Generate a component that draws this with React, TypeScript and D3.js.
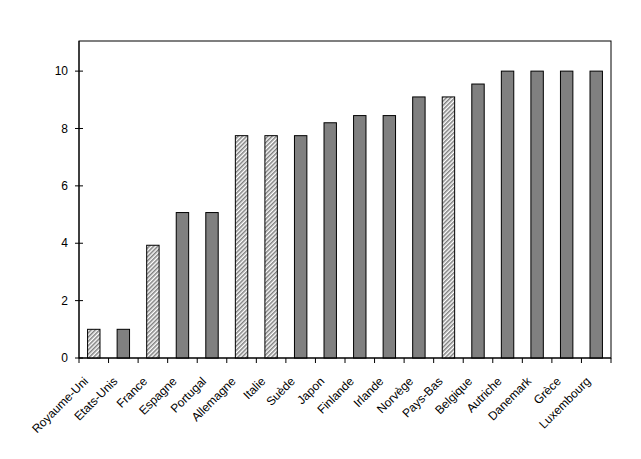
import React from "react";
import * as d3 from "d3";

const categories = ["Royaume-Uni","Etats-Unis","France","Espagne","Portugal","Allemagne","Italie","Suède","Japon","Finlande","Irlande","Norvège","Pays-Bas","Belgique","Autriche","Danemark","Grèce","Luxembourg"];
const values = [1, 1, 3.93, 5.07, 5.07, 7.75, 7.75, 7.75, 8.2, 8.45, 8.45, 9.1, 9.1, 9.55, 10, 10, 10, 10];
const hatched = ["Royaume-Uni","France","Allemagne","Italie","Pays-Bas"];
const yTicks = [0, 2, 4, 6, 8, 10];

export default function App() {
  const W = 641, H = 459;
  const left = 79, right = 611, top = 41, bottom = 358;
  const x = d3.scaleBand<string>().domain(categories).range([left, right]).paddingInner(0.58).paddingOuter(0.29);
  const band = (right - left) / categories.length;
  const y = d3.scaleLinear().domain([0, 11.05]).range([bottom, top]);
  const font = "'Liberation Sans', Arial, sans-serif";
  return (
    <svg width={W} height={H} style={{ position: "absolute", left: 0, top: 0, background: "#fff" }}>
      <defs>
        <pattern id="hatch" width="3" height="3" patternUnits="userSpaceOnUse" patternTransform="rotate(45)">
          <rect width="3" height="3" fill="#fff" />
          <line x1="0.75" y1="0" x2="0.75" y2="3" stroke="#808080" strokeWidth="1.6" />
        </pattern>
      </defs>
      <rect x={left} y={top} width={right - left} height={bottom - top} fill="#fff" stroke="#000" strokeWidth={1} />
      {categories.map((c, i) => (
        <rect key={c} x={x(c)!} y={y(values[i])} width={x.bandwidth()} height={bottom - y(values[i])}
          fill={hatched.includes(c) ? "url(#hatch)" : "#808080"} stroke="#000" strokeWidth={1} />
      ))}
      <line x1={left} x2={left} y1={top} y2={bottom} stroke="#000" />
      <line x1={left} x2={right} y1={bottom} y2={bottom} stroke="#000" />
      {yTicks.map(t => (
        <g key={t}>
          <line x1={left - 4} x2={left + 4} y1={y(t)} y2={y(t)} stroke="#000" />
          <text x={left - 11} y={y(t)} dy="0.35em" textAnchor="end" fontFamily={font} fontSize={12}>{t}</text>
        </g>
      ))}
      {d3.range(categories.length + 1).map(i => (
        <line key={i} x1={left + i * band} x2={left + i * band} y1={bottom} y2={bottom + 5} stroke="#000" />
      ))}
      {categories.map(c => {
        const cx = x(c)! + x.bandwidth() / 2;
        return (
          <text key={c} transform={`translate(${cx - 5},${bottom + 24}) rotate(-45)`} textAnchor="end"
            fontFamily={font} fontSize={12}>{c}</text>
        );
      })}
    </svg>
  );
}
